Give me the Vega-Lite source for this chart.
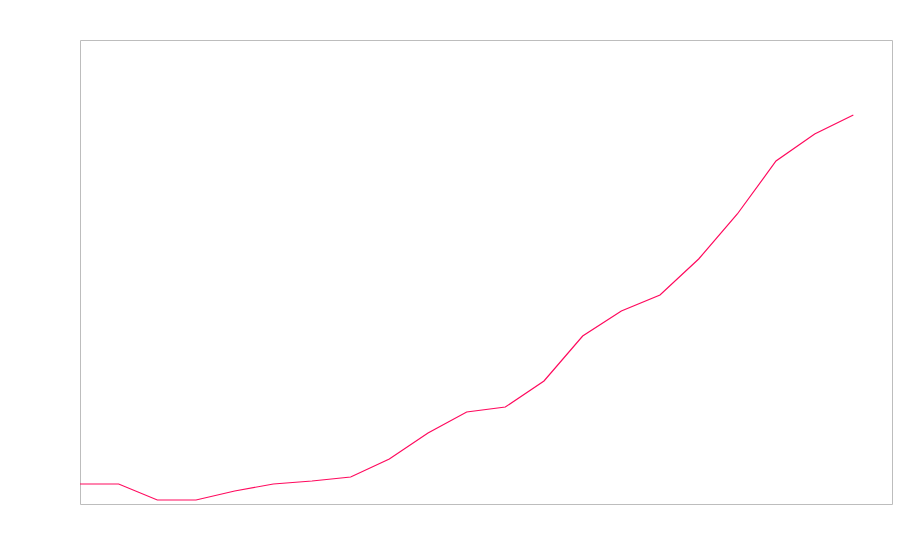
{
  "$schema": "https://vega.github.io/schema/vega-lite/v6.json",
  "width": 812,
  "height": 464,
  "autosize": "none",
  "padding": {"left": 80, "top": 40, "right": 8, "bottom": 56},
  "background": "white",
  "config": {"view": {"stroke": "#bdbdbd", "strokeWidth": 1}},
  "data": {"values": [
    {"i": 0, "v": 20}, {"i": 1, "v": 20}, {"i": 2, "v": 4}, {"i": 3, "v": 4},
    {"i": 4, "v": 13}, {"i": 5, "v": 20}, {"i": 6, "v": 23}, {"i": 7, "v": 27},
    {"i": 8, "v": 45}, {"i": 9, "v": 71}, {"i": 10, "v": 92}, {"i": 11, "v": 97},
    {"i": 12, "v": 123}, {"i": 13, "v": 168}, {"i": 14, "v": 193}, {"i": 15, "v": 209},
    {"i": 16, "v": 245}, {"i": 17, "v": 290}, {"i": 18, "v": 343}, {"i": 19, "v": 370},
    {"i": 20, "v": 389}
  ]},
  "mark": {"type": "line", "color": "#ff0a5e", "strokeWidth": 1.2},
  "encoding": {
    "x": {"field": "i", "type": "quantitative", "scale": {"domain": [0, 21], "nice": false}, "axis": null},
    "y": {"field": "v", "type": "quantitative", "scale": {"domain": [0, 464], "nice": false, "zero": false}, "axis": null}
  }
}
